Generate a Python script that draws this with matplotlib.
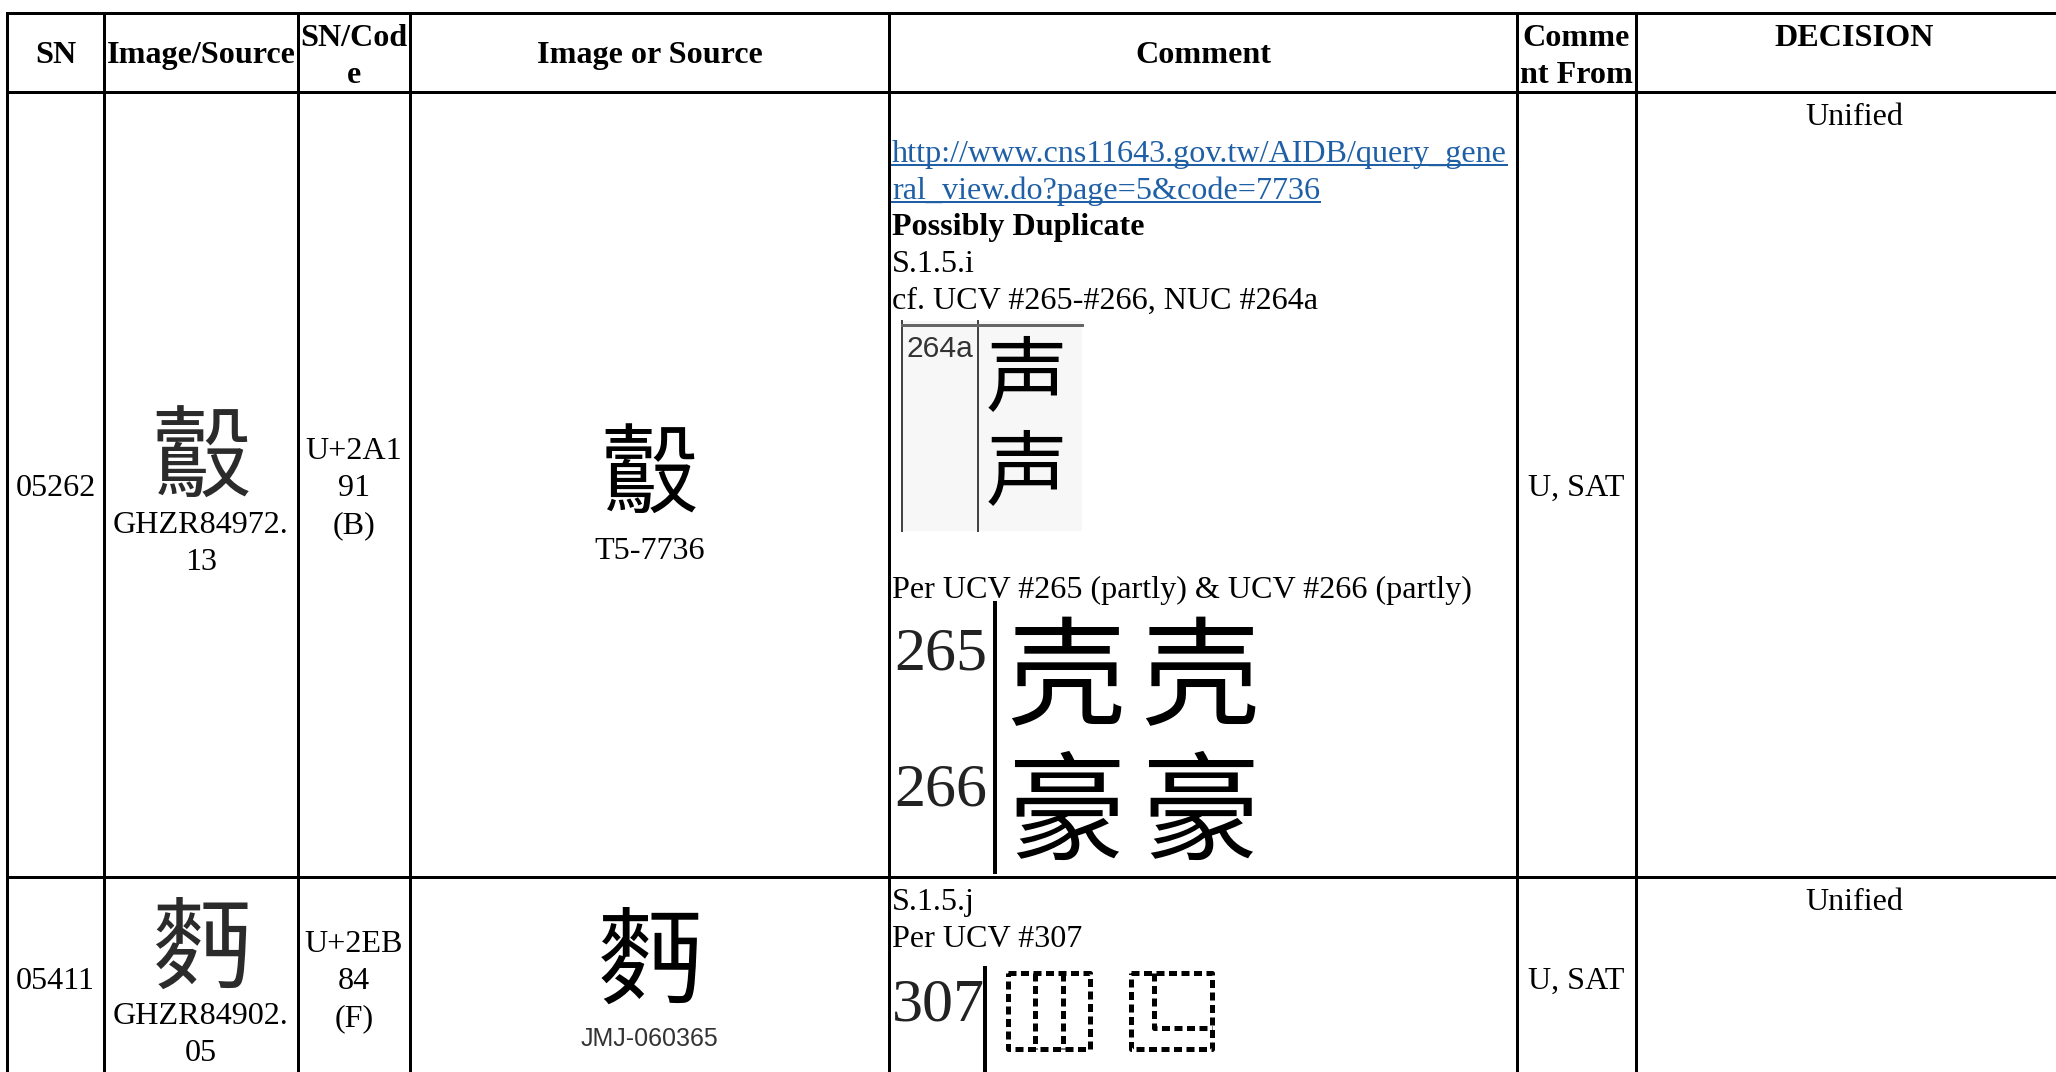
import matplotlib
matplotlib.use("Agg")
import matplotlib.pyplot as plt
from matplotlib import font_manager
from matplotlib.ft2font import FT2Font
from matplotlib.patches import Rectangle

# ---------------- data ----------------
headers = ["SN", "Image/Source", "SN/Cod\ne", "Image or Source", "Comment", "Comme\nnt From", "DECISION"]
sn_numbers = ["05262", "05411"]
source_codepoints = [0x2A191, 0x2EB84]          # ideograph shown in the image columns
source_fallback = ["鷇", "麪"]                    # used only if no installed font has the glyph
source_ids = ["GHZR84972.\n13", "GHZR84902.\n05"]
code_labels = ["U+2A1\n91\n(B)", "U+2EB\n84\n(F)"]
other_ids = ["T5-7736", "JMJ-060365"]
comment_from = ["U, SAT", "U, SAT"]
decisions = ["Unified", "Unified"]
link_lines = ["http://www.cns11643.gov.tw/AIDB/query_gene", "ral_view.do?page=5&code=7736"]
comment1_lines = ["Possibly Duplicate", "S.1.5.i", "cf. UCV #265-#266, NUC #264a"]
comment1_bold = [True, False, False]
comment1_per = "Per UCV #265 (partly) & UCV #266 (partly)"
nuc_label = "264a"
nuc_chars = ["声", "声"]
ucv_labels = ["265", "266"]
ucv_chars = [["壳", "壳"], ["豪", "豪"]]
comment2_lines = ["S.1.5.j", "Per UCV #307"]
ucv307_label = "307"

# ---------------- layout (pixels) ----------------
W, H, DPI = 2056, 1072, 100
col_x = [7, 104, 298, 410, 889, 1517, 1636, 2072]
row_y = [13, 92, 877, 1110]
PX = 72.0 / DPI            # points per pixel
BODY = 32.2 * PX           # body font size (pt)
LH = 37                    # line height (px)
SERIF = "Liberation Serif"
SANS = "Liberation Sans"
CJK_FAMS = ["Noto Sans CJK SC", "Noto Sans CJK TC", "Noto Sans CJK JP", "Noto Sans CJK KR"]


def cjk_family_for(cp):
    for fam in CJK_FAMS:
        try:
            path = font_manager.findfont(font_manager.FontProperties(family=fam),
                                         fallback_to_default=False)
            if FT2Font(path).get_char_index(cp):
                return fam
        except Exception:
            pass
    return None


fig = plt.figure(figsize=(W / DPI, H / DPI), dpi=DPI)
ax = fig.add_axes([0, 0, 1, 1])
ax.set_xlim(0, W)
ax.set_ylim(H, 0)
ax.axis("off")

LW = 3 * PX
# table grid
for y in row_y[:3]:
    ax.plot([col_x[0], col_x[-1]], [y, y], color="black", lw=LW, solid_capstyle="projecting")
for x in col_x:
    ax.plot([x, x], [row_y[0], row_y[-1]], color="black", lw=LW, solid_capstyle="projecting")

centers = [(col_x[i] + col_x[i + 1]) / 2 for i in range(len(col_x) - 1)]


def txt(x, y, s, size=BODY, ha="center", weight="normal", family=SERIF, color="black"):
    return ax.text(x, y, s, ha=ha, va="center_baseline", fontsize=size, fontweight=weight,
                   family=family, color=color)


def lines(x, y0, s, **kw):
    for i, ln in enumerate(s.split("\n")):
        txt(x, y0 + i * LH, ln, **kw)


# header
header_y = [52, 52, 35, 52, 52, 35, 35]
for c, (h, y) in enumerate(zip(headers, header_y)):
    lines(centers[c], y, h, weight="bold")

# rows
row_sn_y = [485, 978]
row_char_y = [450, 941]
row_code_y = [448, 941]
row_other_char_y = [465, 953]
row_other_id_y = [548, 1036]
row_dec_y = [114, 899]
for r in range(2):
    txt(centers[0], row_sn_y[r], sn_numbers[r])
    fam = cjk_family_for(source_codepoints[r])
    ch = chr(source_codepoints[r]) if fam else source_fallback[r]
    fam = fam or CJK_FAMS[0]
    txt(centers[1], row_char_y[r], ch, size=100 * PX, family=fam, color="#2b2b2b")
    lines(centers[1], row_char_y[r] + 72, source_ids[r])
    lines(centers[2], row_code_y[r], code_labels[r])
    txt(centers[3], row_other_char_y[r], ch, size=(98 if r == 0 else 106) * PX, family=fam)
    if r == 0:
        txt(centers[3], row_other_id_y[r], other_ids[r])
    else:
        txt(centers[3], row_other_id_y[r], other_ids[r], size=25 * PX, family=SANS, color="#333333")
    txt(centers[5], row_sn_y[r], comment_from[r])
    txt(centers[6], row_dec_y[r], decisions[r])

# ---- comment cell, row 1 ----
cx = 892
fig.canvas.draw()
renderer = fig.canvas.get_renderer()
LINK = "#1F5FA6"
for i, ln in enumerate(link_lines):
    y = 151 + i * LH
    t = txt(cx, y, ln, ha="left", color=LINK)
    bb = t.get_window_extent(renderer=renderer)
    ax.plot([bb.x0, bb.x1], [y + 14, y + 14], color=LINK, lw=2 * PX)
for i, (ln, b) in enumerate(zip(comment1_lines, comment1_bold)):
    txt(cx, 224 + i * LH, ln, ha="left", weight="bold" if b else "normal")

# NUC 264a picture
ax.add_patch(Rectangle((901, 321), 181, 210, facecolor="#f7f7f7", edgecolor="none", zorder=0))
ax.plot([902, 902], [321, 531], color="#444444", lw=2 * PX)
ax.plot([978, 978], [321, 531], color="#444444", lw=2 * PX)
ax.plot([902, 1082], [325, 325], color="#666666", lw=3 * PX)
txt(906, 346, nuc_label, ha="left", size=30 * PX, family=SANS, color="#333333")
txt(1027, 372, nuc_chars[0], size=82 * PX, family=CJK_FAMS[0])
txt(1027, 466, nuc_chars[1], size=82 * PX, family=CJK_FAMS[0])

txt(cx, 587, comment1_per, ha="left")

# UCV 265 / 266 picture
ax.plot([995, 995], [603, 872], color="black", lw=4 * PX)
ucv_label_y = [648, 784]
ucv_char_y = [669, 804]
for k in range(2):
    txt(941, ucv_label_y[k], ucv_labels[k], size=62 * PX, color="#222222")
    for j, xc in enumerate([1066, 1200]):
        txt(xc, ucv_char_y[k], ucv_chars[k][j], size=118 * PX, family=CJK_FAMS[0])

# ---- comment cell, row 2 ----
for i, ln in enumerate(comment2_lines):
    txt(cx, 899 + i * LH, ln, ha="left")
txt(938, 999, ucv307_label, size=62 * PX, color="#222222")
ax.plot([985, 985], [968, 1080], color="black", lw=4 * PX)

DASH = dict(color="black", lw=5 * PX, linestyle=(0, (1.6, 0.9)), solid_capstyle="butt")
# left dashed box with two inner columns
L0, L1, T0, T1 = 1008, 1090, 973, 1049
ax.plot([L0, L1, L1, L0, L0], [T0, T0, T1, T1, T0], **DASH)
for f in (1 / 3, 2 / 3):
    xv = L0 + f * (L1 - L0)
    ax.plot([xv, xv], [T0, T1], **DASH)
# right dashed box with inner L
R0, R1 = 1131, 1212
ax.plot([R0, R1, R1, R0, R0], [T0, T0, T1, T1, T0], **DASH)
xv = R0 + 0.29 * (R1 - R0)
yh = T0 + 0.73 * (T1 - T0)
ax.plot([xv, xv, R1], [T0, yh, yh], **DASH)

fig.savefig("out.png", dpi=DPI)
